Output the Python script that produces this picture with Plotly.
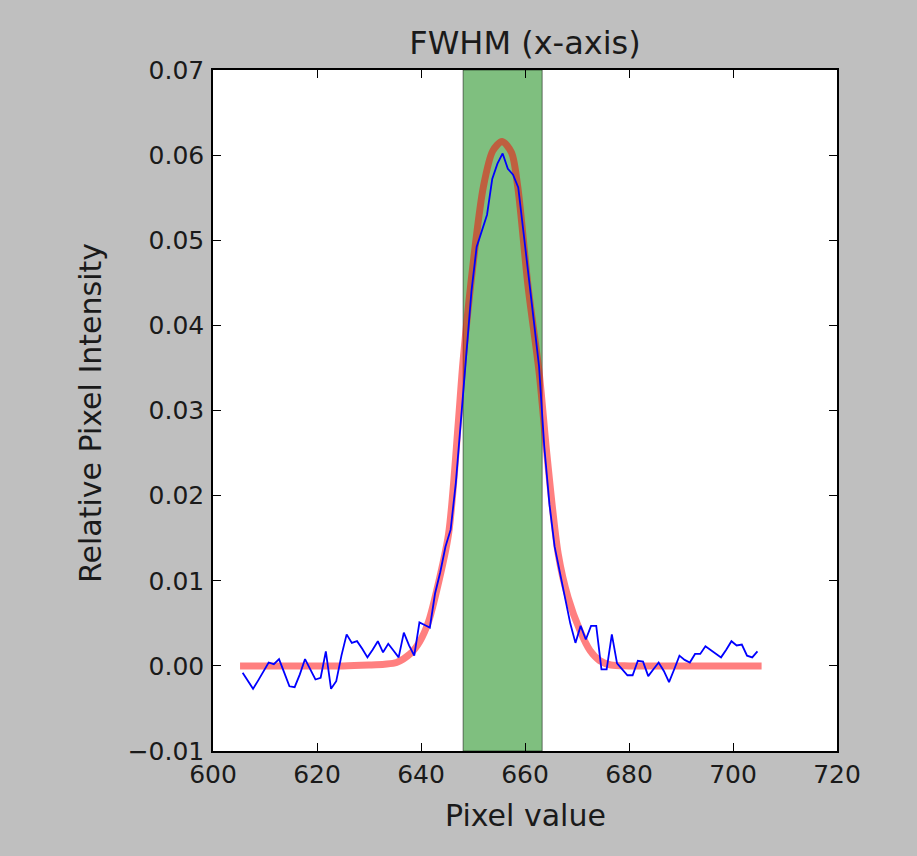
import numpy as np
import plotly.graph_objects as go

# ---- data ----
pixel_start = 605.7          # first measured pixel position
intensity = [
    -0.0008, -0.0018, -0.0027, -0.0017, -0.0006, 0.0004, 0.0002, 0.0008, -0.0008, -0.0024,
    -0.0025, -0.0010, 0.0008, -0.0004, -0.0016, -0.0014, 0.0017, -0.0027, -0.0018, 0.0012,
    0.0037, 0.0027, 0.0029, 0.0020, 0.0010, 0.0019, 0.0029, 0.0016, 0.0026, 0.0018,
    0.0010, 0.0039, 0.0024, 0.0012, 0.0051, 0.0048, 0.0045, 0.0085, 0.0110, 0.0140,
    0.0160, 0.0215, 0.0290, 0.0375, 0.0440, 0.0492, 0.0510, 0.0530, 0.0572, 0.0590,
    0.0602, 0.0584, 0.0577, 0.0562, 0.0510, 0.0460, 0.0405, 0.0352, 0.0258, 0.0190,
    0.0140, 0.0110, 0.0082, 0.0050, 0.0027, 0.0047, 0.0031, 0.0047, 0.0047, -0.0004,
    -0.0004, 0.0037, 0.0003, -0.0004, -0.0011, -0.0011, 0.0006, 0.0005, -0.0012, -0.0004,
    0.0004, -0.0006, -0.0019, -0.0004, 0.0012, 0.0007, 0.0004, 0.0014, 0.0014, 0.0023,
    0.0019, 0.0015, 0.0010, 0.0019, 0.0029, 0.0024, 0.0025, 0.0012, 0.0010, 0.0017,
]
pixels = pixel_start + np.arange(len(intensity))

fit_x = [605.2, 615, 625, 630, 633, 635.3, 637.9, 639.8, 641.4, 643.0, 645.3, 647.2,
         648.1, 650.4, 652.0, 653.8, 655.6, 657.4, 658.6, 660.6, 662.75, 664.2, 666.4,
         668.3, 670.6, 672.5, 674.4, 676.5, 680, 690, 705.5]
fit_y = [0.0, 0.0, 0.0, 0.0001, 0.0002, 0.0004, 0.0014, 0.0029, 0.0051, 0.0088, 0.0155, 0.0288,
         0.0359, 0.0492, 0.0563, 0.0605, 0.0616, 0.0603, 0.0563, 0.0445, 0.0343, 0.0249, 0.0131,
         0.0080, 0.0041, 0.0018, 0.0006, 0.0001, 0.0, 0.0, 0.0]

fwhm_bounds = [648.1, 663.3]

title_text = "FWHM (x-axis)"
x_label = "Pixel value"
y_label = "Relative Pixel Intensity"
x_ticks = [600, 620, 640, 660, 680, 700, 720]
y_ticks = [-0.01, 0.0, 0.01, 0.02, 0.03, 0.04, 0.05, 0.06, 0.07]

FONT = "DejaVu Sans"
TXT = "#1a1a1a"

fig = go.Figure()

fig.add_trace(go.Scatter(
    x=fit_x, y=fit_y, mode="lines",
    line=dict(color="rgba(255,0,0,0.5)", width=7, shape="spline", smoothing=0.8),
    hoverinfo="skip", showlegend=False,
))
fig.add_trace(go.Scatter(
    x=pixels, y=intensity, mode="lines",
    line=dict(color="#0000ff", width=1.8),
    showlegend=False,
))

fig.add_shape(
    type="rect", xref="x", yref="paper",
    x0=fwhm_bounds[0], x1=fwhm_bounds[1], y0=0, y1=1,
    fillcolor="rgba(0,128,0,0.5)", line=dict(color="rgba(0,0,0,0.5)", width=1),
    layer="below",
)

axis_common = dict(
    showgrid=False, zeroline=False,
    showline=True, linecolor="black", linewidth=1.5, mirror="ticks",
    ticks="inside", ticklen=8, tickwidth=1, tickcolor="black",
    tickfont=dict(family=FONT, size=25, color=TXT),
)

fig.update_xaxes(range=[600, 720], tickvals=x_ticks, ticktext=[str(v) for v in x_ticks],
                 ticklabelstandoff=0, **axis_common)
fig.update_yaxes(range=[-0.01, 0.07], tickvals=y_ticks,
                 ticktext=[("\u22120.01" if v < 0 else f"{v:.2f}") for v in y_ticks],
                 ticklabelstandoff=2, **axis_common)

fig.update_layout(
    width=917, height=856,
    margin=dict(l=213, r=80, t=70, b=105, pad=0),
    paper_bgcolor="#bfbfbf", plot_bgcolor="white",
    title=dict(text=title_text, x=(213 + 837) / 2 / 917, xanchor="center",
               y=1 - 54 / 856, yanchor="bottom",
               font=dict(family=FONT, size=32, color=TXT)),
    annotations=[
        dict(text=x_label, xref="paper", yref="paper", x=0.5, y=-64 / 681,
             xanchor="center", yanchor="middle", showarrow=False,
             font=dict(family=FONT, size=30, color=TXT)),
        dict(text=y_label, xref="paper", yref="paper", x=(91 - 213) / 624, y=(751 - 413) / 681,
             xanchor="center", yanchor="middle", textangle=-90, showarrow=False,
             font=dict(family=FONT, size=30, color=TXT)),
    ],
)

fig.write_html(
    "out.html",
    config={"displayModeBar": False},
    post_script="document.body.style.margin='0';document.body.style.overflow='hidden';"
                "document.body.style.background='#bfbfbf';",
)
